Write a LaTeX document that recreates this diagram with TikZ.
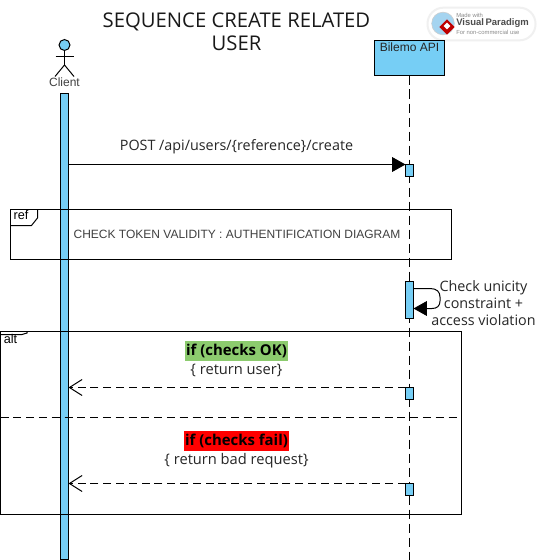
\documentclass[tikz,border=0pt]{standalone}
\usepackage{fontspec}
\setmainfont{Liberation Sans}
\newfontfamily\os{Open Sans}
\usetikzlibrary{arrows.meta,calc,shapes.geometric}
\definecolor{actblue}{HTML}{76CEF5}
\definecolor{okgreen}{HTML}{8CCB6E}
\definecolor{globeblue}{HTML}{A5D4F0}
\tikzset{
  x=0.75pt,y=-0.75pt,
  ln/.style={draw=black,line width=0.75pt,outer sep=0pt},
  actbar/.style={ln,fill=actblue,minimum width=6pt,inner sep=0pt,anchor=north},
  msg/.style={ln,-{Triangle[length=10pt,width=11pt,fill=black]}},
  ret/.style={ln,dash pattern=on 6pt off 3.6pt,-{Straight Barb[length=9.5pt,width=12pt,line width=0.75pt]}},
  life/.style={ln,dash pattern=on 7pt off 3.5pt},
  frm/.style={ln,inner sep=0pt,anchor=north west},
  ostxt/.style={font=\os\fontsize{10.75}{12.8}\selectfont,text=black!85,align=center,inner sep=0pt},
  ostxb/.style={font=\os\fontsize{11}{13}\selectfont,text=black!85,align=center,inner sep=0pt},
  lbl/.style={font=\fontsize{9}{11}\selectfont,text=black!75,inner sep=0pt},
  cond/.style={font=\os\bfseries\fontsize{11.2}{13}\selectfont,text=black,inner sep=0pt,text height=11pt,text depth=4pt,inner xsep=0.5pt},
}
\begin{document}
\begin{tikzpicture}
\useasboundingbox (0,0) rectangle (542,560);
\fill[white] (0,0) rectangle (542,560);

% title
\node[font=\os\fontsize{15.2}{17.4}\selectfont,text=black!90,align=center,inner sep=0pt] (title) at (236.5,32) {SEQUENCE CREATE RELATED\\USER};

% watermark
\node[draw=black!6,line width=1.5pt,fill=white,rounded corners=12pt,minimum width=81pt,minimum height=24.5pt,inner sep=0pt] (pill) at (481.5,24) {};
\node[circle,draw=black!20,fill=globeblue,line width=0.4pt,minimum size=17pt,inner sep=0pt] (globe) at (443,23.5) {};
\node[diamond,aspect=1,fill=red!75!black,minimum size=11.5pt,inner sep=0pt] (gem) at (447,27) {};
\node[fill=white,rotate=45,minimum size=3.6pt,inner sep=0pt] (gemin) at (447,26) {};
\node[font=\fontsize{4.4}{5}\selectfont,text=black!45,inner sep=0pt,anchor=west] (wm1) at (456,15.5) {Made with};
\node[font=\bfseries\fontsize{7.1}{8}\selectfont,text=black!70,inner sep=0pt,anchor=west] (wm2) at (456,23.5) {Visual\,Paradigm};
\node[font=\fontsize{4.4}{5}\selectfont,text=black!45,inner sep=0pt,anchor=west] (wm3) at (456,32) {For non-commercial use};

% client actor
\node[circle,ln,fill=actblue,minimum size=8.2pt,inner sep=0pt] (head) at (64.5,45) {};
\coordinate (hip) at (64.5,65);
\coordinate (armL) at (55.5,56.5);
\coordinate (armR) at (73.5,56.5);
\coordinate (legL) at (55,76.5);
\coordinate (legR) at (74,76.5);
\draw[ln] (head.south) -- (hip);
\draw[ln] (armL) -- (armR);
\draw[ln] (legL) -- (hip) -- (legR);
\node[lbl] (client) at (64.5,82.5) {Client};

% API head
\node[ln,fill=actblue,minimum width=52.5pt,minimum height=26.25pt,inner sep=0pt,anchor=north west] (api) at (374.5,40.5) {};
\node[lbl,text=black!85] (apilabel) at (409.5,47) {Bilemo API};
\coordinate (apiend) at (409.5,560);
\draw[life] (api.south) -- (apiend);

% activations
\node[actbar,minimum height=349.5pt] (cact) at (64.5,93.5) {};
\node[actbar,minimum height=9pt] (a1) at (409.5,164.5) {};
\node[actbar,minimum height=27.75pt] (a2) at (409.5,281.5) {};
\node[actbar,minimum height=9pt] (a3) at (409.5,387.5) {};
\node[actbar,minimum height=9pt] (a4) at (409.5,483.5) {};

% frames
\node[frm,minimum width=331.1pt,minimum height=37.5pt] (ref) at (10.5,209.5) {};
\coordinate (reftabA) at (10.5,225.5);
\coordinate (reftabB) at (31.5,225.5);
\coordinate (reftabC) at (37.5,218);
\coordinate (reftabD) at (37.5,209.5);
\draw[ln] (reftabA) -- (reftabB) -- (reftabC) -- (reftabD);
\node[lbl,text=black,font=\fontsize{9.5}{11}\selectfont] (reflabel) at (21,215) {ref};

\node[frm,minimum width=345.4pt,minimum height=137.25pt] (alt) at (0.5,331.5) {};
\coordinate (alttabA) at (0.5,334.5);
\coordinate (alttabB) at (22,334.5);
\coordinate (alttabC) at (27,333);
\coordinate (alttabD) at (27,331.5);
\draw[ln] (alttabA) -- (alttabB) -- (alttabC) -- (alttabD);
\node[lbl,text=black,font=\fontsize{9.5}{11}\selectfont] (altlabel) at (10.5,338.5) {alt};
\coordinate (divL) at (0.5,417);
\coordinate (divR) at (461,417);
\draw[ln,dash pattern=on 6pt off 3.6pt] (divL) -- (divR);

% messages
\draw[msg] (cact.east |- a1.north west) -- (a1.north west);
\node[ostxt] (post) at (236.5,147) {POST /api/users/\{reference\}/create};

\node[lbl,font=\fontsize{9}{11}\selectfont] (check) at (237,234) {CHECK TOKEN VALIDITY : AUTHENTIFICATION DIAGRAM};

% self message
\coordinate (selfA) at (413.5,288.5);
\coordinate (selfB) at (413.5,308.5);
\draw[ln,-{Triangle[length=10pt,width=11pt,fill=black]}] (selfA) -- (430,288.5) .. controls (437,288.5) and (440,292) .. (440,297) -- (440,301) .. controls (440,306) and (437,308.5) .. (432,308.5) -- (selfB);
\node[ostxt] (unic) at (483.5,303.5) {Check unicity\\constraint +\\access violation};

% alt contents
\node[cond,fill=okgreen] (ok) at (236.5,350.5) {if (checks OK)};
\node[ostxb] (retu) at (236.5,370) {\{ return user\}};
\draw[ret] (a3.north west) -- (cact.east |- a3.north west);

\node[cond,fill=red] (fail) at (236.5,441) {if (checks fail)};
\node[ostxb] (retb) at (236.5,461) {\{ return bad request\}};
\draw[ret] (a4.north west) -- (cact.east |- a4.north west);
\end{tikzpicture}
\end{document}
